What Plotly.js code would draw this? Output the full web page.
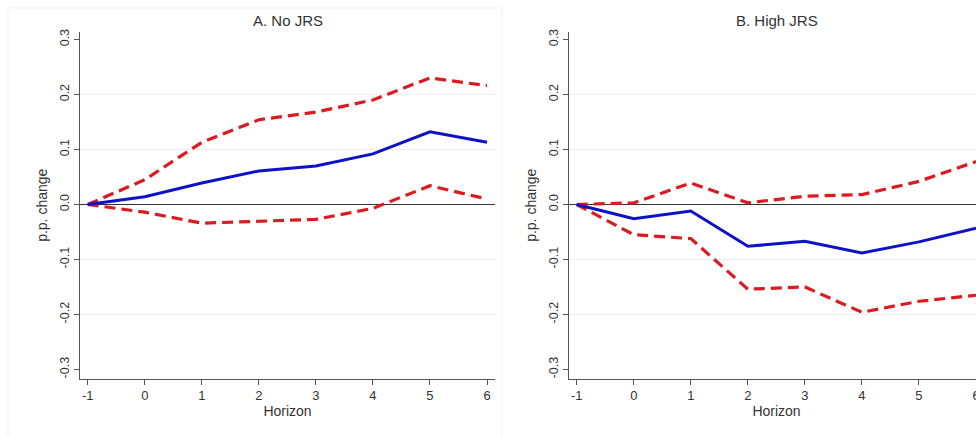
<!DOCTYPE html>
<html>
<head>
<meta charset="utf-8">
<script src="https://cdn.plot.ly/plotly-3.0.1.min.js"></script>
<style>
html,body{margin:0;padding:0;overflow:hidden;background:#fff;width:976px;height:437px;}
#chart{width:990px;height:437px;}
</style>
</head>
<body>
<div id="chart"></div>
<script>
// Data
const horizon = [-1, 0, 1, 2, 3, 4, 5, 6];
const panelTitles = ["A. No JRS", "B. High JRS"];
const noJrsEst   = [0, 0.014, 0.039, 0.061, 0.070, 0.092, 0.132, 0.113];
const noJrsUpper = [0, 0.045, 0.113, 0.154, 0.168, 0.190, 0.230, 0.216];
const noJrsLower = [0, -0.014, -0.034, -0.030, -0.027, -0.007, 0.034, 0.010];
const highJrsEst   = [0, -0.026, -0.012, -0.076, -0.067, -0.088, -0.068, -0.043];
const highJrsUpper = [0, 0.003, 0.039, 0.003, 0.015, 0.018, 0.042, 0.078];
const highJrsLower = [0, -0.055, -0.062, -0.154, -0.150, -0.196, -0.176, -0.165];
const yTickVals = [-0.3, -0.2, -0.1, 0, 0.1, 0.2, 0.3];
const yTickText = ["-0.3", "-0.2", "-0.1", "0.0", "0.1", "0.2", "0.3"];
const gridVals = [-0.2, -0.1, 0.1, 0.2];
const xTickVals = [-1, 0, 1, 2, 3, 4, 5, 6];
const xTickText = ["-1", "0", "1", "2", "3", "4", "5", "6"];

const BLUE = "#0b12c8";
const RED = "#dc1a1f";
const W = 990, H = 437;

function est(y, xa, ya) {
  return {x: horizon, y: y, xaxis: xa, yaxis: ya, mode: "lines", type: "scatter",
    line: {color: BLUE, width: 3}, hoverinfo: "skip", showlegend: false};
}
function band(y, xa, ya) {
  return {x: horizon, y: y, xaxis: xa, yaxis: ya, mode: "lines", type: "scatter",
    line: {color: RED, width: 3.2, dash: "11px,6px"}, hoverinfo: "skip", showlegend: false};
}
const traces = [
  band(noJrsUpper, "x", "y"), band(noJrsLower, "x", "y"), est(noJrsEst, "x", "y"),
  band(highJrsUpper, "x2", "y2"), band(highJrsLower, "x2", "y2"), est(highJrsEst, "x2", "y2")
];

const FAM = "Liberation Sans, Arial, sans-serif";
const font = {family: FAM, size: 12, color: "#333"};
const tickFontX = {family: FAM, size: 13, color: "#333"};
const tickFontY = {family: FAM, size: 12.5, color: "#333"};
const titleFont = {family: FAM, size: 14, color: "#333"};
const ydom = [1 - 378.5 / H, 1 - 32 / H];

function xaxis(dom, anchor) {
  return {domain: dom, anchor: anchor, range: [-1.135, 6.14], tickvals: xTickVals, ticktext: xTickText,
    ticks: "outside", ticklen: 5, tickcolor: "#555", showline: true, linecolor: "#555", linewidth: 1.2,
    showgrid: false, zeroline: false, tickfont: tickFontX,
    title: {text: "Horizon", font: titleFont, standoff: 4}};
}
function yaxis(anchor) {
  return {domain: ydom, anchor: anchor, range: [-0.3164, 0.3136], tickvals: yTickVals, ticktext: yTickText,
    tickangle: -90, ticks: "outside", ticklen: 5, tickcolor: "#555", showline: true, linecolor: "#555", linewidth: 1.2,
    showgrid: false, zeroline: true, zerolinecolor: "#333", zerolinewidth: 1.2, tickfont: tickFontY,
    title: {text: "p.p. change", font: titleFont, standoff: 6}};
}

const shapes = [];
[["x", "y"], ["x2", "y2"]].forEach(([xa, ya]) => {
  gridVals.forEach(v => shapes.push({type: "line", xref: xa + " domain", yref: ya, x0: 0, x1: 1, y0: v, y1: v,
    line: {color: "#ededed", width: 1}, layer: "below"}));
});
// faint outer frame of the left graph
shapes.push({type: "rect", xref: "paper", yref: "paper", x0: 8 / W, x1: 502 / W, y0: -0.01, y1: 1 - 8 / H,
  line: {color: "#f1f1f1", width: 1}, layer: "below"});

const layout = {
  width: W, height: H, margin: {l: 0, r: 0, t: 0, b: 0},
  paper_bgcolor: "#fff", plot_bgcolor: "#fff", font: font, showlegend: false,
  xaxis: xaxis([80 / W, 495 / W], "y"),
  yaxis: yaxis("x"),
  xaxis2: xaxis([569 / W, 984 / W], "y2"),
  yaxis2: yaxis("x2"),
  shapes: shapes,
  annotations: [
    {text: panelTitles[0], xref: "x domain", yref: "paper", x: 0.5, y: 1 - 21 / H, showarrow: false,
      font: {family: FAM, size: 15, color: "#333"}, xanchor: "center", yanchor: "middle"},
    {text: panelTitles[1], xref: "x2 domain", yref: "paper", x: 0.5, y: 1 - 21 / H, showarrow: false,
      font: {family: FAM, size: 15, color: "#333"}, xanchor: "center", yanchor: "middle"}
  ]
};
Plotly.newPlot("chart", traces, layout, {displayModeBar: false, staticPlot: true});
</script>
</body>
</html>
